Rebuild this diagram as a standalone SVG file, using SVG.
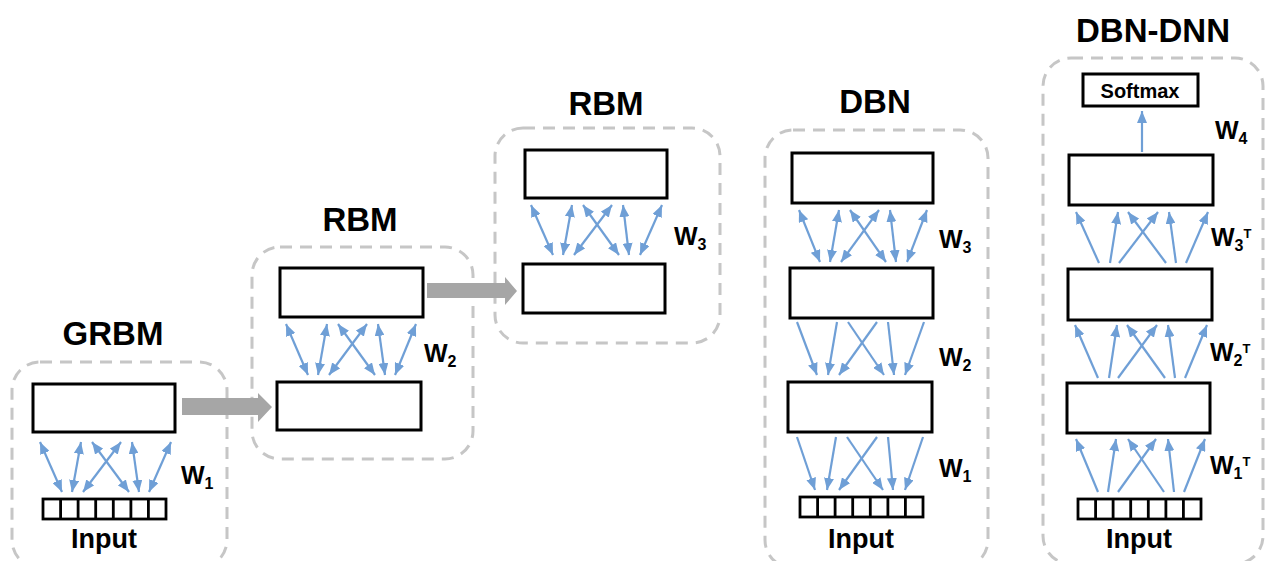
<svg xmlns="http://www.w3.org/2000/svg" width="1266" height="561" viewBox="0 0 1266 561">
  <style>
    .frame { fill: none; stroke: #c6c6c6; stroke-width: 3; stroke-dasharray: 12 8; }
    .layer { fill: #ffffff; stroke: #000000; stroke-width: 3; }
    .cell { fill: #ffffff; stroke: #000000; stroke-width: 2.8; }
    .title { font-family: "Liberation Sans", Arial, sans-serif; font-weight: bold; font-size: 33px; fill: #000; text-anchor: middle; }
    .lbl { font-family: "Liberation Sans", Arial, sans-serif; font-weight: bold; font-size: 27px; fill: #000; text-anchor: middle; }
    .w { font-family: "Liberation Sans", Arial, sans-serif; font-weight: bold; font-size: 25px; fill: #000; }
    .sub { font-size: 16px; }
    .sup { font-size: 13px; }
    .soft { font-family: "Liberation Sans", Arial, sans-serif; font-weight: bold; font-size: 20px; fill: #000; text-anchor: middle; }
    .both { stroke: #6f9fd6; stroke-width: 2.2; fill: none; marker-start: url(#head); marker-end: url(#head); }
    .one { stroke: #6f9fd6; stroke-width: 2.2; fill: none; marker-end: url(#head); }
    .flow { fill: #a6a6a6; }
  </style>
  <defs>
    <marker id="head" viewBox="0 0 12 10" refX="12" refY="5" markerWidth="12" markerHeight="10" markerUnits="userSpaceOnUse" orient="auto-start-reverse">
      <path d="M0,0 L12,5 L0,10 z" fill="#6f9fd6"/>
    </marker>
    <g id="cells7">
      <rect class="cell" x="0" y="0" width="123" height="20"/>
      <path class="cell" d="M17.6,0 V20 M35.1,0 V20 M52.7,0 V20 M70.3,0 V20 M87.9,0 V20 M105.4,0 V20"/>
    </g>
  </defs>

  <!-- GRBM -->
  <g id="grbm">
    <text class="title" x="113" y="345">GRBM</text>
    <rect class="frame" x="12" y="362" width="215" height="206" rx="28"/>
    <rect class="layer" x="33" y="384" width="142" height="48"/>
    <use href="#cells7" x="43" y="499"/>
    <text class="lbl" x="104" y="548">Input</text>
    <text class="w" x="181" y="484">W<tspan class="sub" dy="5">1</tspan></text>
  </g>

  <!-- RBM (second layer) -->
  <g id="rbm2">
    <text class="title" x="360" y="231">RBM</text>
    <rect class="frame" x="252" y="247" width="221" height="212" rx="28"/>
    <rect class="layer" x="280" y="268" width="143" height="49"/>
    <rect class="layer" x="277" y="382" width="144" height="48"/>
    <text class="w" x="424" y="362">W<tspan class="sub" dy="5">2</tspan></text>
  </g>

  <!-- RBM (third layer) -->
  <g id="rbm3">
    <text class="title" x="606" y="115">RBM</text>
    <rect class="frame" x="495" y="128" width="225" height="215" rx="28"/>
    <rect class="layer" x="525" y="150" width="142" height="48"/>
    <rect class="layer" x="523" y="264" width="142" height="49"/>
    <text class="w" x="674" y="245">W<tspan class="sub" dy="5">3</tspan></text>
  </g>

  <!-- DBN -->
  <g id="dbn">
    <text class="title" x="875" y="113">DBN</text>
    <rect class="frame" x="765" y="130" width="223" height="438" rx="28"/>
    <rect class="layer" x="792" y="153" width="141" height="50"/>
    <rect class="layer" x="790" y="268" width="143" height="50"/>
    <rect class="layer" x="788" y="382" width="144" height="50"/>
    <use href="#cells7" x="800" y="497"/>
    <text class="lbl" x="861" y="548">Input</text>
    <text class="w" x="939" y="248">W<tspan class="sub" dy="5">3</tspan></text>
    <text class="w" x="939" y="366">W<tspan class="sub" dy="5">2</tspan></text>
    <text class="w" x="939" y="477">W<tspan class="sub" dy="5">1</tspan></text>
  </g>

  <!-- DBN-DNN -->
  <g id="dbn-dnn">
    <text class="title" x="1153" y="42">DBN-DNN</text>
    <rect class="frame" x="1043" y="58" width="220" height="506" rx="28"/>
    <rect class="layer" x="1083" y="74" width="115" height="32"/>
    <text class="soft" x="1140" y="98">Softmax</text>
    <rect class="layer" x="1069" y="155" width="144" height="50"/>
    <rect class="layer" x="1068" y="269" width="144" height="51"/>
    <rect class="layer" x="1067" y="383" width="143" height="50"/>
    <use href="#cells7" x="1078" y="499"/>
    <text class="lbl" x="1139" y="548">Input</text>
    <text class="w" x="1215" y="139">W<tspan class="sub" dy="5">4</tspan></text>
    <text class="w" x="1211" y="246">W<tspan class="sub" dy="5">3</tspan><tspan class="sup" dy="-13">T</tspan></text>
    <text class="w" x="1210" y="361">W<tspan class="sub" dy="5">2</tspan><tspan class="sup" dy="-13">T</tspan></text>
    <text class="w" x="1210" y="474">W<tspan class="sub" dy="5">1</tspan><tspan class="sup" dy="-13">T</tspan></text>
  </g>

  <!-- connectors -->
  <g id="connectors">
    <!-- stage hand-off arrows -->
    <path class="flow" d="M182,398 H258 V393 L272,407 L258,422 V415 H182 z"/>
    <path class="flow" d="M427,283 H505 V277 L517,291 L505,305 V298 H427 z"/>

    <!-- GRBM W1 (undirected) -->
    <line class="both" x1="40" y1="442" x2="62" y2="492"/>
    <line class="both" x1="81" y1="442" x2="72" y2="492"/>
    <line class="both" x1="92" y1="442" x2="129" y2="492"/>
    <line class="both" x1="121" y1="442" x2="83" y2="492"/>
    <line class="both" x1="132" y1="442" x2="139" y2="492"/>
    <line class="both" x1="171" y1="442" x2="149" y2="492"/>

    <!-- RBM W2 (undirected) -->
    <line class="both" x1="286" y1="324" x2="308" y2="375"/>
    <line class="both" x1="327" y1="324" x2="318" y2="375"/>
    <line class="both" x1="338" y1="324" x2="375" y2="375"/>
    <line class="both" x1="367" y1="324" x2="329" y2="375"/>
    <line class="both" x1="378" y1="324" x2="385" y2="375"/>
    <line class="both" x1="416" y1="324" x2="395" y2="375"/>

    <!-- RBM W3 (undirected) -->
    <line class="both" x1="531" y1="205" x2="553" y2="255"/>
    <line class="both" x1="572" y1="205" x2="563" y2="255"/>
    <line class="both" x1="583" y1="205" x2="619" y2="255"/>
    <line class="both" x1="612" y1="205" x2="574" y2="255"/>
    <line class="both" x1="623" y1="205" x2="629" y2="255"/>
    <line class="both" x1="662" y1="205" x2="640" y2="255"/>

    <!-- DBN W3 (undirected) -->
    <line class="both" x1="799" y1="210" x2="820" y2="262"/>
    <line class="both" x1="839" y1="210" x2="830" y2="262"/>
    <line class="both" x1="850" y1="210" x2="886" y2="262"/>
    <line class="both" x1="879" y1="210" x2="841" y2="262"/>
    <line class="both" x1="890" y1="210" x2="896" y2="262"/>
    <line class="both" x1="927" y1="210" x2="907" y2="262"/>

    <!-- DBN W2 (top-down) -->
    <line class="one" x1="797" y1="322" x2="817" y2="375"/>
    <line class="one" x1="837" y1="322" x2="828" y2="375"/>
    <line class="one" x1="848" y1="322" x2="884" y2="375"/>
    <line class="one" x1="877" y1="322" x2="839" y2="375"/>
    <line class="one" x1="888" y1="322" x2="894" y2="375"/>
    <line class="one" x1="924" y1="322" x2="905" y2="375"/>

    <!-- DBN W1 (top-down) -->
    <line class="one" x1="797" y1="437" x2="815" y2="490"/>
    <line class="one" x1="836" y1="437" x2="827" y2="490"/>
    <line class="one" x1="847" y1="437" x2="883" y2="490"/>
    <line class="one" x1="877" y1="437" x2="839" y2="490"/>
    <line class="one" x1="888" y1="437" x2="893" y2="490"/>
    <line class="one" x1="923" y1="437" x2="905" y2="490"/>

    <!-- DBN-DNN W4 -->
    <line class="one" x1="1142" y1="152" x2="1142" y2="111"/>

    <!-- DBN-DNN W3T (bottom-up) -->
    <line class="one" x1="1099" y1="263" x2="1076" y2="212"/>
    <line class="one" x1="1110" y1="263" x2="1118" y2="212"/>
    <line class="one" x1="1119" y1="263" x2="1158" y2="212"/>
    <line class="one" x1="1166" y1="263" x2="1128" y2="212"/>
    <line class="one" x1="1176" y1="263" x2="1169" y2="212"/>
    <line class="one" x1="1186" y1="263" x2="1208" y2="212"/>

    <!-- DBN-DNN W2T (bottom-up) -->
    <line class="one" x1="1098" y1="378" x2="1075" y2="325"/>
    <line class="one" x1="1109" y1="378" x2="1117" y2="325"/>
    <line class="one" x1="1118" y1="378" x2="1157" y2="325"/>
    <line class="one" x1="1165" y1="378" x2="1127" y2="325"/>
    <line class="one" x1="1175" y1="378" x2="1168" y2="325"/>
    <line class="one" x1="1185" y1="378" x2="1207" y2="325"/>

    <!-- DBN-DNN W1T (bottom-up) -->
    <line class="one" x1="1098" y1="492" x2="1076" y2="439"/>
    <line class="one" x1="1108" y1="492" x2="1116" y2="439"/>
    <line class="one" x1="1118" y1="492" x2="1156" y2="439"/>
    <line class="one" x1="1164" y1="492" x2="1128" y2="439"/>
    <line class="one" x1="1174" y1="492" x2="1168" y2="439"/>
    <line class="one" x1="1184" y1="492" x2="1205" y2="439"/>
  </g>
</svg>
